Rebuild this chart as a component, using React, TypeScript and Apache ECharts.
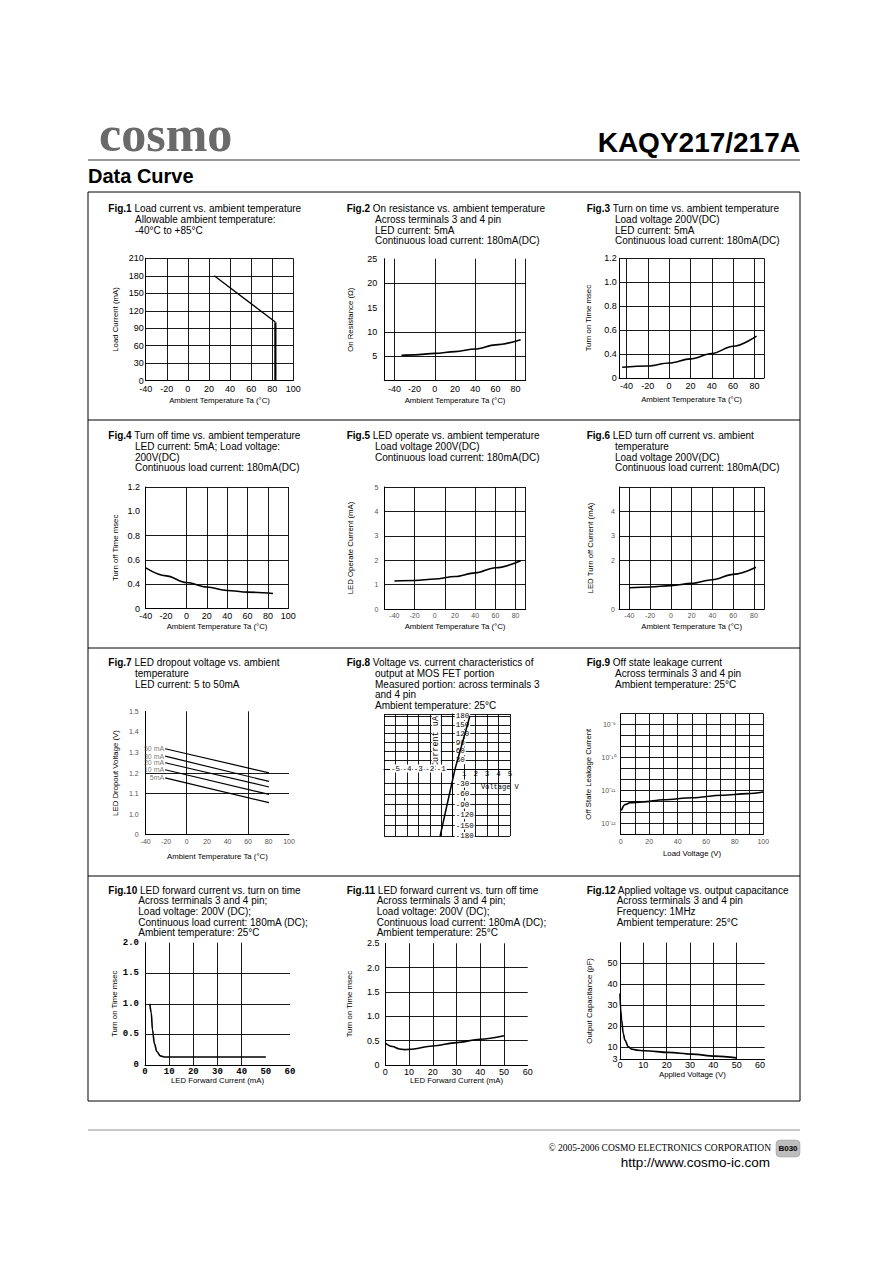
import React, { useEffect, useRef } from "react";
import * as echarts from "echarts";

const W = 892;
const H = 1263;
const SANS = '"Liberation Sans", Arial, Helvetica, sans-serif';
const SERIF = '"Liberation Serif", "Times New Roman", serif';
const MONO = '"Liberation Mono", "DejaVu Sans Mono", monospace';

// ---------- Fig.1 Load current vs. ambient temperature
const fig1XTicks = [-40, -20, 0, 20, 40, 60, 80, 100];
const fig1YTicks = [0, 30, 60, 90, 120, 150, 180, 210];
const fig1Temp = [25, 82, 83];
const fig1Current = [180, 102, 100];
const fig1LimitTemp = [83, 83];
const fig1LimitCurrent = [100, 0];

// ---------- Fig.2 On resistance
const fig2XTicks = [-40, -20, 0, 20, 40, 60, 80];
const fig2YTicks = [5, 10, 15, 20, 25];
const fig2Temp = [-33, -20, 0, 20, 40, 60, 85];
const fig2Resistance = [5.2, 5.3, 5.6, 5.95, 6.5, 7.35, 8.4];

// ---------- Fig.3 Turn on time
const fig3XTicks = [-40, -20, 0, 20, 40, 60, 80];
const fig3YTicks = [0.2, 0.4, 0.6, 0.8, 1.0, 1.2];
const fig3YTickText = ["0", "0.4", "0.6", "0.8", "1.0", "1.2"];
const fig3Temp = [-44, -20, 0, 20, 40, 60, 82];
const fig3Time = [0.29, 0.3, 0.325, 0.36, 0.405, 0.465, 0.55];

// ---------- Fig.4 Turn off time
const fig4XTicks = [-40, -20, 0, 20, 40, 60, 80, 100];
const fig4YTicks = [0.2, 0.4, 0.6, 0.8, 1.0, 1.2];
const fig4YTickText = ["0", "0.4", "0.6", "0.8", "1.0", "1.2"];
const fig4Temp = [-40, -20, 0, 20, 40, 60, 85];
const fig4Time = [0.535, 0.47, 0.415, 0.378, 0.35, 0.336, 0.325];

// ---------- Fig.5 LED operate current
const fig5XTicks = [-40, -20, 0, 20, 40, 60, 80];
const fig5YTicks = [0, 1, 2, 3, 4, 5];
const fig5Temp = [-40, -20, 0, 20, 40, 60, 85];
const fig5Current = [1.15, 1.17, 1.23, 1.33, 1.48, 1.69, 1.98];

// ---------- Fig.6 LED turn off current
const fig6XTicks = [-40, -20, 0, 20, 40, 60, 80];
const fig6YTicks = [0, 2, 3, 4];
const fig6Temp = [-40, -20, 0, 20, 40, 60, 82];
const fig6Current = [0.87, 0.9, 0.96, 1.05, 1.2, 1.42, 1.71];

// ---------- Fig.7 LED dropout voltage
const fig7XTicks = [-40, -20, 0, 20, 40, 60, 80, 100];
const fig7YTicks = [0.9, 1.0, 1.1, 1.2, 1.3, 1.4, 1.5];
const fig7YTickText = ["0", "1.0", "1.1", "1.2", "1.3", "1.4", "1.5"];
const fig7Temp = [-21, 80.5];
const fig7LedCurrents = ["50 mA", "30 mA", "20 mA", "10 mA", "5mA"];
const fig7V50 = [1.318, 1.201];
const fig7V30 = [1.282, 1.159];
const fig7V20 = [1.25, 1.132];
const fig7V10 = [1.216, 1.096];
const fig7V5 = [1.176, 1.056];

// ---------- Fig.8 V-I characteristics
const fig8XNegTicks = [-5, -4, -3, -2, -1];
const fig8XPosTicks = [1, 2, 3, 4, 5];
const fig8YPosTicks = [30, 60, 90, 120, 150, 180];
const fig8YNegTicks = [-30, -60, -90, -120, -150, -180];
const fig8VoltPos = [0.2, 1.5];
const fig8CurrPos = [0, 180];
const fig8VoltNeg = [-1.1, 0.2];
const fig8CurrNeg = [-180, 12];

// ---------- Fig.9 Off state leakage current (decade grid units)
const fig9XTicks = [0, 20, 40, 60, 80, 100];
const fig9YTicks = [1, 4, 7, 10];
const fig9YTickText = ["10⁻¹²", "10⁻¹¹", "10⁻¹⁰", "10⁻⁹"];
const fig9Voltage = [0.5, 3, 6.5, 15, 30, 50, 71, 89, 100];
const fig9Leakage = [2.2, 2.73, 2.9, 2.97, 3.18, 3.36, 3.58, 3.73, 3.88];

// ---------- Fig.10 LED forward current vs turn on time
const fig10XTicks = [0, 10, 20, 30, 40, 50, 60];
const fig10YTicks = [0, 0.5, 1.0, 1.5, 2.0];
const fig10YTickText = ["0", "0.5", "1.0", "1.5", "2.0"];
const fig10Current = [2, 2.6, 3.1, 3.9, 4.9, 6.3, 8.3, 50];
const fig10Time = [1.0, 0.85, 0.57, 0.35, 0.22, 0.15, 0.13, 0.13];

// ---------- Fig.11 LED forward current vs turn off time
const fig11XTicks = [0, 10, 20, 30, 40, 50, 60];
const fig11YTicks = [0, 0.5, 1.0, 1.5, 2.0, 2.5];
const fig11YTickText = ["0", "0.5", "1.0", "1.5", "2.0", "2.5"];
const fig11Current = [0, 3, 6, 8, 10, 20, 30, 40, 50];
const fig11Time = [0.45, 0.38, 0.33, 0.315, 0.32, 0.39, 0.46, 0.53, 0.6];

// ---------- Fig.12 Applied voltage vs output capacitance
const fig12XTicks = [0, 10, 20, 30, 40, 50, 60];
const fig12YTicks = [4, 10, 20, 30, 40, 50];
const fig12YTickText = ["3", "10", "20", "30", "40", "50"];
const fig12Voltage = [0, 0.3, 0.7, 1.4, 2.1, 3.6, 5, 7.1, 10.7, 20.7, 30.7, 40.7, 50];
const fig12Capacitance = [35.6, 27.6, 22.8, 16.4, 13.2, 10, 8.9, 8.4, 8.1, 7.3, 6.5, 5.5, 4.7];

const TEMP_NAME = "Ambient Temperature Ta (°C)";

type Ax = {
  min: number; max: number; step: number; ticks: number[]; texts?: string[]; lines: number[];
  name?: string; nameGap?: number; margin?: number; size?: number; family?: string; color?: string;
  weight?: string; inside?: boolean; position?: string; showLine?: boolean; bg?: string; offset?: number;
  nameFamily?: string; nameSize?: number; nameBg?: string;
};
type Curve = { x: number[]; y: number[]; w?: number; smooth?: boolean; z?: number };
type Spec = { left: number; top: number; width: number; height: number; x: Ax; y: Ax; curves: Curve[]; axisZ?: number };

const gl = (a: number, b: number, s: number) => {
  const r: number[] = [];
  for (let v = a; v <= b + 1e-9; v += s) r.push(Math.round(v * 1000) / 1000);
  return r;
};

const F8_LEFT = 384;
const F8_W = 126;
const F8_ZERO_OFFSET = -(F8_W * 6) / 11;

const SPECS: Spec[] = [
  // 0 Fig.1
  {
    left: 145.7, top: 258.3, width: 147.6, height: 122.4,
    x: { min: -40, max: 100, step: 20, ticks: fig1XTicks, lines: gl(-20, 100, 20), name: TEMP_NAME, nameGap: 15.6, margin: 3.5 },
    y: { min: 0, max: 210, step: 30, ticks: fig1YTicks, lines: gl(30, 210, 30), name: "Load Current (mA)", nameGap: 26.7, margin: 2 },
    curves: [
      { x: fig1Temp, y: fig1Current, w: 1.3, smooth: false },
      { x: fig1LimitTemp, y: fig1LimitCurrent, w: 2.2, smooth: false },
    ],
  },
  // 1 Fig.2
  {
    left: 384.3, top: 258.7, width: 141.4, height: 122,
    x: { min: -50, max: 90, step: 10, ticks: fig2XTicks, lines: [-40, 0, 40, 80, 90], name: TEMP_NAME, nameGap: 16, margin: 4 },
    y: { min: 0, max: 25, step: 5, ticks: fig2YTicks, lines: [5, 10, 20], name: "On Resistance (Ω)", nameGap: 30.3, margin: 7 },
    curves: [{ x: fig2Temp, y: fig2Resistance }],
  },
  // 2 Fig.3
  {
    left: 619, top: 258.3, width: 145, height: 119.7,
    x: { min: -47, max: 89, step: 1, ticks: fig3XTicks, lines: [-40, -20, 0, 20, 40, 60, 80, 89], name: TEMP_NAME, nameGap: 17.7, margin: 3.5 },
    y: { min: 0.2, max: 1.2, step: 0.2, ticks: fig3YTicks, texts: fig3YTickText, lines: [0.4, 0.6, 0.8, 1.0, 1.2], name: "Turn on Time msec", nameGap: 26.7, margin: 2.3 },
    curves: [{ x: fig3Temp, y: fig3Time }],
  },
  // 3 Fig.4
  {
    left: 145.7, top: 487, width: 142.6, height: 121.7,
    x: { min: -40, max: 100, step: 20, ticks: fig4XTicks, lines: [0, 20, 40, 60, 80, 100], name: TEMP_NAME, nameGap: 14, margin: 3 },
    y: { min: 0.2, max: 1.2, step: 0.2, ticks: fig4YTicks, texts: fig4YTickText, lines: [0.4, 0.6, 0.8, 1.2], name: "Turn off Time msec", nameGap: 26, margin: 5.7 },
    curves: [{ x: fig4Temp, y: fig4Time }],
  },
  // 4 Fig.5
  {
    left: 384.3, top: 487, width: 141.4, height: 122,
    x: { min: -50, max: 90, step: 10, ticks: fig5XTicks, lines: [-20, 10, 40, 60, 80, 90], name: TEMP_NAME, nameGap: 13.7, margin: 3, size: 7, color: "#555" },
    y: { min: 0, max: 5, step: 1, ticks: fig5YTicks, lines: [1, 2, 3, 4, 5], name: "LED Operate Current (mA)", nameGap: 30.3, margin: 6, size: 7, color: "#555" },
    curves: [{ x: fig5Temp, y: fig5Current }],
  },
  // 5 Fig.6
  {
    left: 619, top: 487, width: 145.3, height: 122,
    x: { min: -50, max: 90, step: 10, ticks: fig6XTicks, lines: [-40, -20, 0, 20, 40, 60, 80, 90], name: TEMP_NAME, nameGap: 13.7, margin: 3, size: 7, color: "#555" },
    y: { min: 0, max: 5, step: 1, ticks: fig6YTicks, lines: [1, 2, 3, 4, 5], name: "LED Turn off Current (mA)", nameGap: 25, margin: 4, size: 7, color: "#555" },
    curves: [{ x: fig6Temp, y: fig6Current }],
  },
  // 6 Fig.7
  {
    left: 145.7, top: 711.3, width: 143.3, height: 123.4,
    x: { min: -40, max: 100, step: 20, ticks: fig7XTicks, lines: [0, 60], name: TEMP_NAME, nameGap: 17.3, margin: 3, size: 7, color: "#555" },
    y: { min: 0.9, max: 1.5, step: 0.1, ticks: fig7YTicks, texts: fig7YTickText, lines: [1.1, 1.2], name: "LED Dropout Voltage (V)", nameGap: 26, margin: 7, size: 7, color: "#555" },
    curves: [
      { x: fig7Temp, y: fig7V50, w: 1.2, smooth: false },
      { x: fig7Temp, y: fig7V30, w: 1.2, smooth: false },
      { x: fig7Temp, y: fig7V20, w: 1.2, smooth: false },
      { x: fig7Temp, y: fig7V10, w: 1.2, smooth: false },
      { x: fig7Temp, y: fig7V5, w: 1.2, smooth: false },
    ],
  },
  // 7 Fig.8 upper half
  {
    left: F8_LEFT, top: 714, width: F8_W, height: 55, axisZ: 5,
    x: { min: -6, max: 5, step: 1, ticks: fig8XNegTicks, lines: [-6, -5, -4, -3, -2, -1, 1, 2, 3, 4, 5], margin: -4.5, size: 7.5, family: MONO, bg: "#fff" },
    y: { min: 0, max: 187, step: 30, ticks: fig8YPosTicks, lines: [30, 60, 90, 120, 150, 180, 187], margin: 2, size: 7.5, family: MONO, bg: "#fff", inside: true, offset: F8_ZERO_OFFSET, name: "Current uA", nameGap: 12, nameFamily: MONO, nameSize: 8.5, nameBg: "#fff" },
    curves: [{ x: fig8VoltPos, y: fig8CurrPos, w: 1.5, smooth: false, z: 7 }],
  },
  // 8 Fig.8 lower half
  {
    left: F8_LEFT, top: 769, width: F8_W, height: 67, axisZ: 5,
    x: { min: -6, max: 5, step: 1, ticks: fig8XPosTicks, lines: [-6, -5, -4, -3, -2, -1, 1, 2, 3, 4, 5], margin: 1, size: 7.5, family: MONO, inside: true, position: "top", showLine: false },
    y: { min: -180, max: 12, step: 30, ticks: fig8YNegTicks, lines: [-30, -60, -90, -120, -150, -180], margin: 2, size: 7.5, family: MONO, bg: "#fff", inside: true, offset: F8_ZERO_OFFSET },
    curves: [{ x: fig8VoltNeg, y: fig8CurrNeg, w: 1.5, smooth: false, z: 7 }],
  },
  // 9 Fig.9
  {
    left: 620.7, top: 713.7, width: 142.6, height: 121,
    x: { min: 0, max: 100, step: 10, ticks: fig9XTicks, lines: gl(10, 100, 10), name: "Load Voltage (V)", nameGap: 15, margin: 3, size: 7, color: "#555" },
    y: { min: 0, max: 11, step: 1, ticks: fig9YTicks, texts: fig9YTickText, lines: gl(1, 11, 1), name: "Off State Leakage Current", nameGap: 28.4, margin: 5, size: 7, color: "#555" },
    curves: [{ x: fig9Voltage, y: fig9Leakage }],
  },
  // 10 Fig.10
  {
    left: 145, top: 942.7, width: 145, height: 122.3,
    x: { min: 0, max: 60, step: 10, ticks: fig10XTicks, lines: [10, 20, 30, 40], name: "LED Forward Current (mA)", nameGap: 9.3, margin: 2, family: MONO, weight: "bold" },
    y: { min: 0, max: 2, step: 0.5, ticks: fig10YTicks, texts: fig10YTickText, lines: [0.5, 1.0, 1.5], name: "Turn on Time msec", nameGap: 27, margin: 6, family: MONO, weight: "bold" },
    curves: [{ x: fig10Current, y: fig10Time }],
  },
  // 11 Fig.11
  {
    left: 385.3, top: 943.3, width: 142.4, height: 121.7,
    x: { min: 0, max: 60, step: 10, ticks: fig11XTicks, lines: [10, 20, 30, 40, 50], name: "LED Forward Current (mA)", nameGap: 10, margin: 2 },
    y: { min: 0, max: 2.5, step: 0.5, ticks: fig11YTicks, texts: fig11YTickText, lines: [0.5, 1.0, 1.5, 2.0], name: "Turn on Time msec", nameGap: 31.7, margin: 5.7 },
    curves: [{ x: fig11Current, y: fig11Time }],
  },
  // 12 Fig.12
  {
    left: 620, top: 942.6, width: 144.7, height: 116.7,
    x: { min: 0, max: 62, step: 1, ticks: fig12XTicks, lines: [10, 20, 30, 40, 50], name: "Applied Voltage (V)", nameGap: 10, margin: 1 },
    y: { min: 4, max: 60, step: 1, ticks: fig12YTicks, texts: fig12YTickText, lines: [10, 20, 30, 40, 50], name: "Output Capacitance (pF)", nameGap: 27, margin: 2.6 },
    curves: [{ x: fig12Voltage, y: fig12Capacitance }],
  },
];

type Title = { x: number; cx: number; y: number; fig: string; lines: string[] };
const TITLES: Title[] = [
  { x: 108.3, cx: 135, y: 208.7, fig: "Fig.1", lines: ["Load current vs. ambient temperature", "Allowable ambient temperature:", "-40°C to +85°C"] },
  { x: 346.7, cx: 375, y: 208.7, fig: "Fig.2", lines: ["On resistance vs. ambient temperature", "Across terminals 3 and 4 pin", "LED current: 5mA", "Continuous load current: 180mA(DC)"] },
  { x: 586.7, cx: 615, y: 208.7, fig: "Fig.3", lines: ["Turn on time vs. ambient temperature", "Load voltage 200V(DC)", "LED current: 5mA", "Continuous load current: 180mA(DC)"] },
  { x: 108.3, cx: 135, y: 435.7, fig: "Fig.4", lines: ["Turn off time vs. ambient temperature", "LED current: 5mA; Load voltage:", "200V(DC)", "Continuous load current: 180mA(DC)"] },
  { x: 346.7, cx: 375, y: 435.7, fig: "Fig.5", lines: ["LED operate vs. ambient temperature", "Load voltage 200V(DC)", "Continuous load current: 180mA(DC)"] },
  { x: 586.7, cx: 615, y: 435.7, fig: "Fig.6", lines: ["LED turn off current vs. ambient", "temperature", "Load voltage 200V(DC)", "Continuous load current: 180mA(DC)"] },
  { x: 108.3, cx: 135, y: 662.7, fig: "Fig.7", lines: ["LED dropout voltage vs. ambient", "temperature", "LED current: 5 to 50mA"] },
  { x: 346.7, cx: 375, y: 662.7, fig: "Fig.8", lines: ["Voltage vs. current characteristics of", "output at MOS FET portion", "Measured portion: across terminals 3", "and 4 pin", "Ambient temperature: 25°C"] },
  { x: 586.7, cx: 615, y: 662.7, fig: "Fig.9", lines: ["Off state leakage current", "Across terminals 3 and 4 pin", "Ambient temperature: 25°C"] },
  { x: 108.3, cx: 138.3, y: 890, fig: "Fig.10", lines: ["LED forward current vs. turn on time", "Across terminals 3 and 4 pin;", "Load voltage: 200V (DC);", "Continuous load current: 180mA (DC);", "Ambient temperature: 25°C"] },
  { x: 346.7, cx: 376.7, y: 890, fig: "Fig.11", lines: ["LED forward current vs. turn off time", "Across terminals 3 and 4 pin;", "Load voltage: 200V (DC);", "Continuous load current: 180mA (DC);", "Ambient temperature: 25°C"] },
  { x: 586.7, cx: 616.7, y: 890, fig: "Fig.12", lines: ["Applied voltage vs. output capacitance", "Across terminals 3 and 4 pin", "Frequency: 1MHz", "Ambient temperature: 25°C"] },
];

function labelFmt(ax: Ax) {
  return (v: number) => {
    for (let k = 0; k < ax.ticks.length; k++) {
      if (Math.abs(ax.ticks[k] - v) < 1e-6) return ax.texts ? ax.texts[k] : String(ax.ticks[k]);
    }
    return "";
  };
}

function axisOpt(i: number, ax: Ax, z?: number) {
  const o: any = {
    gridIndex: i,
    type: "value",
    min: ax.min,
    max: ax.max,
    interval: ax.step,
    offset: ax.offset ?? 0,
    axisLine: { show: ax.showLine !== false, onZero: false, lineStyle: { color: "#000", width: 1 } },
    axisTick: { show: false },
    splitLine: { show: false },
    axisLabel: {
      formatter: labelFmt(ax),
      margin: ax.margin ?? 2,
      inside: !!ax.inside,
      fontSize: ax.size ?? 9,
      fontFamily: ax.family ?? SANS,
      fontWeight: ax.weight ?? "normal",
      color: ax.color ?? "#000",
      hideOverlap: false,
    },
    z: z ?? 0,
  };
  if (ax.bg) {
    o.axisLabel.backgroundColor = ax.bg;
    o.axisLabel.padding = [0, 1];
  }
  if (ax.position) o.position = ax.position;
  if (ax.name) {
    o.name = ax.name;
    o.nameLocation = "middle";
    o.nameGap = ax.nameGap ?? 15;
    o.nameTextStyle = {
      fontSize: ax.nameSize ?? 7.8,
      fontFamily: ax.nameFamily ?? SANS,
      color: "#000",
      backgroundColor: ax.nameBg ?? "transparent",
    };
  }
  return o;
}

function text(x: number, y: number, t: string, font: string, extra: any = {}) {
  return {
    type: "text",
    x,
    y,
    silent: true,
    style: {
      text: t,
      font,
      fill: "#000",
      align: "left",
      verticalAlign: "middle",
      textAlign: "left",
      textVerticalAlign: "middle",
      ...extra,
    },
  };
}

function hline(x1: number, x2: number, y: number, stroke = "#000", w = 1) {
  return { type: "line", silent: true, shape: { x1, y1: y, x2, y2: y }, style: { stroke, lineWidth: w } };
}

function buildOption() {
  const grid: any[] = [];
  const xAxis: any[] = [];
  const yAxis: any[] = [];
  const series: any[] = [];

  SPECS.forEach((s, i) => {
    grid.push({ left: s.left, top: s.top, width: s.width, height: s.height, show: false });
    xAxis.push(axisOpt(i, s.x, s.axisZ));
    yAxis.push(axisOpt(i, s.y, s.axisZ));
    series.push({
      type: "line",
      xAxisIndex: i,
      yAxisIndex: i,
      data: [],
      silent: true,
      clip: false,
      z: 1,
      markLine: {
        silent: true,
        symbol: ["none", "none"],
        label: { show: false },
        emphasis: { disabled: true },
        animation: false,
        lineStyle: { color: "#000", width: 0.9, type: "solid" },
        data: [...s.x.lines.map((v) => ({ xAxis: v })), ...s.y.lines.map((v) => ({ yAxis: v }))],
      },
    });
    s.curves.forEach((c) => {
      series.push({
        type: "line",
        xAxisIndex: i,
        yAxisIndex: i,
        data: c.x.map((v, k) => [v, c.y[k]]),
        symbol: "none",
        showSymbol: false,
        smooth: c.smooth === false ? false : 0.35,
        smoothMonotone: "x",
        lineStyle: { color: "#000", width: c.w ?? 1.6 },
        silent: true,
        clip: false,
        z: c.z ?? 3,
      });
    });
  });

  // Fig.7 current labels at the start of each line
  const fig7Starts = [fig7V50[0], fig7V30[0], fig7V20[0], fig7V10[0], fig7V5[0]];
  series.push({
    type: "scatter",
    xAxisIndex: 6,
    yAxisIndex: 6,
    symbolSize: 0,
    silent: true,
    z: 4,
    data: fig7Starts.map((y, k) => ({ value: [fig7Temp[0], y], name: fig7LedCurrents[k] })),
    label: { show: true, position: "left", distance: 1, formatter: "{b}", fontSize: 7, color: "#555", fontFamily: SANS },
  });

  const g: any[] = [];
  // header
  g.push(text(99, 134, "cosmo", `bold 50px ${SERIF}`, { fill: "#6a6a6a" }));
  g.push(text(800, 142, "KAQY217/217A", `bold 28px ${SANS}`, { align: "right", textAlign: "right" }));
  g.push(hline(88, 800, 160, "#333", 1.2));
  g.push(text(88, 176, "Data Curve", `bold 20px ${SANS}`));
  // frame
  g.push({ type: "rect", silent: true, shape: { x: 88, y: 192, width: 712, height: 909 }, style: { fill: "none", stroke: "#000", lineWidth: 1 } });
  g.push(hline(88, 800, 420));
  g.push(hline(88, 800, 648));
  g.push(hline(88, 800, 876));
  // titles
  TITLES.forEach((t) => {
    g.push({
      type: "text",
      x: t.x,
      y: t.y,
      silent: true,
      style: {
        text: `{b|${t.fig}} ${t.lines[0]}`,
        font: `10px ${SANS}`,
        fill: "#000",
        align: "left",
        verticalAlign: "middle",
        textAlign: "left",
        textVerticalAlign: "middle",
        rich: { b: { fontWeight: "bold", fontSize: 10, fontFamily: SANS, fill: "#000" } },
      },
    });
    for (let k = 1; k < t.lines.length; k++) {
      g.push(text(t.cx, t.y + k * 10.7, t.lines[k], `10px ${SANS}`));
    }
  });
  // Fig.8 voltage axis name
  g.push(text(481, 787, "Voltage V", `7px ${MONO}`));
  // footer
  g.push(hline(88, 800, 1130, "#777", 0.8));
  g.push(text(771, 1148, "© 2005-2006 COSMO ELECTRONICS CORPORATION", `9.5px ${SERIF}`, { align: "right", textAlign: "right" }));
  g.push({ type: "rect", silent: true, shape: { x: 776, y: 1140, width: 24, height: 17, r: 4 }, style: { fill: "#bdbdbd", stroke: "#999", lineWidth: 0.5 } });
  g.push(text(788, 1148.5, "B030", `bold 8px ${SANS}`, { align: "center", textAlign: "center" }));
  g.push(text(770, 1162, "http://www.cosmo-ic.com", `13.5px ${SANS}`, { align: "right", textAlign: "right" }));

  return {
    animation: false,
    backgroundColor: "#fff",
    grid,
    xAxis,
    yAxis,
    series,
    graphic: g,
  };
}

export default function App() {
  const ref = useRef<HTMLDivElement>(null);
  useEffect(() => {
    if (!ref.current) return;
    const chart = echarts.init(ref.current, null, { renderer: "svg" });
    chart.setOption(buildOption() as any);
    return () => chart.dispose();
  }, []);
  return (
    <div
      ref={ref}
      style={{ position: "absolute", left: 0, top: 0, width: W, height: H, background: "#fff" }}
    />
  );
}
